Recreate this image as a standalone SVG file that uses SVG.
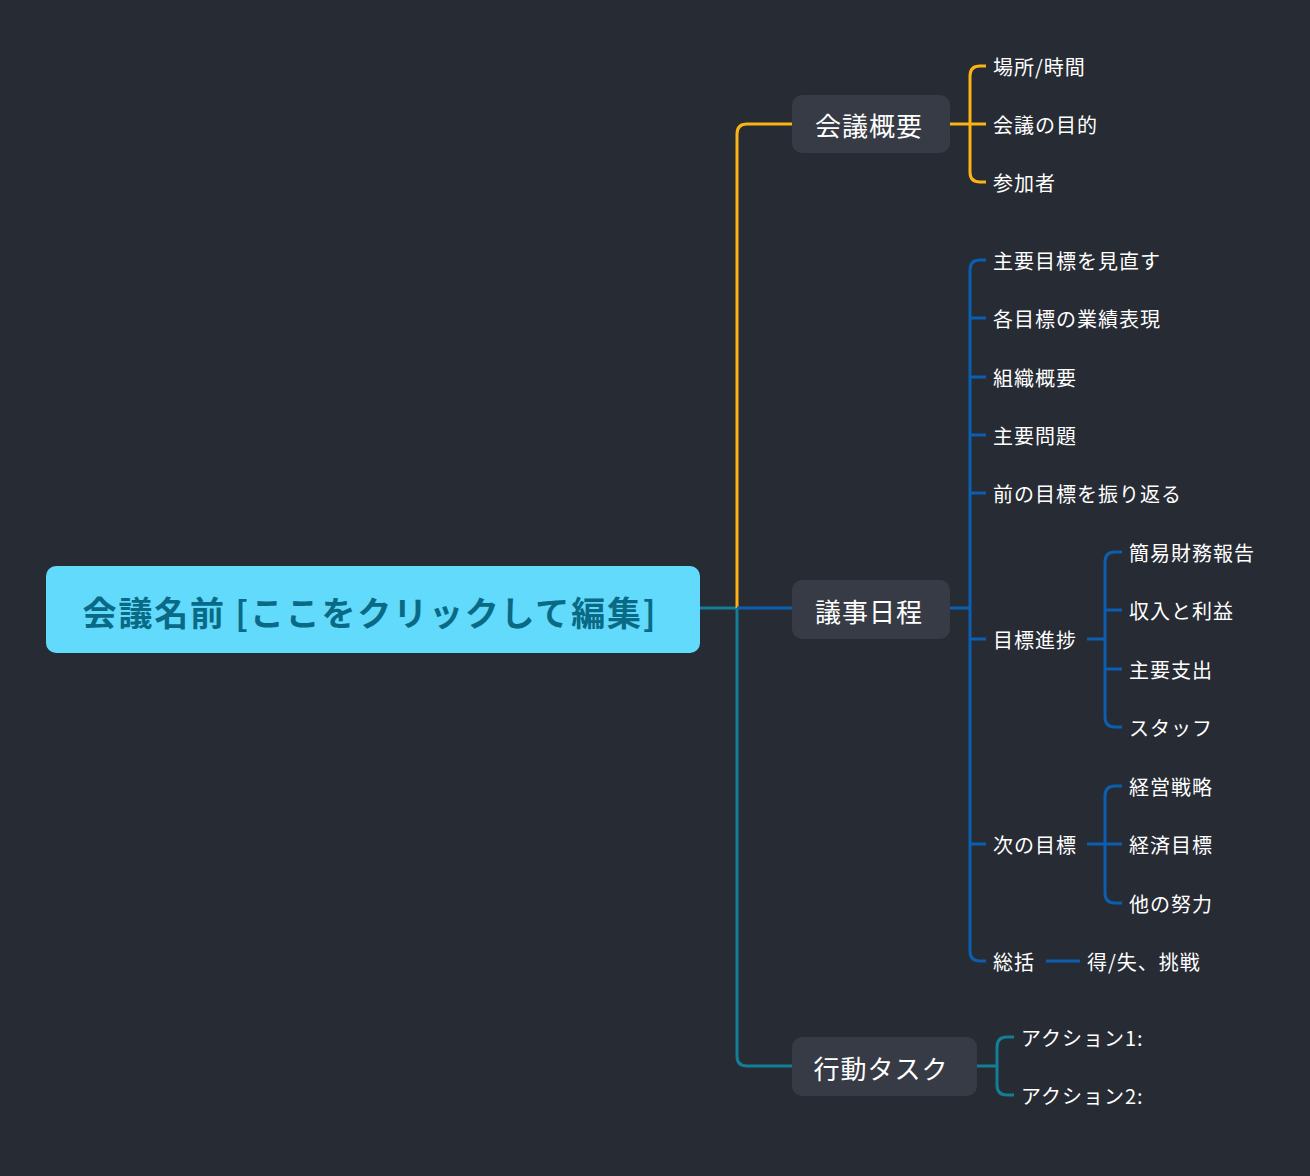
<svg xmlns="http://www.w3.org/2000/svg" width="1310" height="1176" viewBox="0 0 1310 1176">
<style>
text{font-family:"Noto Sans CJK JP","Noto Sans",sans-serif;fill:#fff;dominant-baseline:central}
.l{font-size:20px;letter-spacing:1px}
.n{font-size:26px;text-anchor:middle;letter-spacing:1px}
.b{fill:#373b45}
path{fill:none;stroke-width:3}
.y{stroke:#fcb314}.u{stroke:#0b5fae}.t{stroke:#137f95}
</style>
<rect width="1310" height="1176" fill="#272b34"/>
<g id="connectors">
<path class="t" d="M700 608H737V1056Q737 1066 747 1066H792"/>
<path class="y" d="M737 608V134Q737 124 747 124H792"/>
<path class="u" d="M737 608H792"/>
<path class="y" d="M950 124H986M986 66H980Q970 66 970 76V172Q970 182 980 182H986"/>
<path class="u" d="M950 608H970M986 260H980Q970 260 970 270V951Q970 961 980 961H986M970 318H986M970 377H986M970 435H986M970 493H986M970 639H986M970 844H986"/>
<path class="u" d="M1087 639H1105M1122 552H1115Q1105 552 1105 562V717Q1105 727 1115 727H1122M1105 610H1122M1105 669H1122"/>
<path class="u" d="M1087 844H1122M1122 786H1115Q1105 786 1105 796V893Q1105 903 1115 903H1122"/>
<path class="u" d="M1046 961H1080"/>
<path class="t" d="M977 1066H997M1014 1037H1007Q997 1037 997 1047V1085Q997 1095 1007 1095H1014"/>
</g>
<g id="root"><rect x="46" y="566" width="654" height="87" rx="10" fill="#61dafb"/><text x="370" y="611" style="font-size:34px;font-weight:bold;fill:#0a6a85;text-anchor:middle;letter-spacing:1.8px">会議名前 [ここをクリックして編集]</text></g>
<g id="n1"><rect class="b" x="792" y="95" width="158" height="58" rx="10"/><text class="n" x="869" y="124">会議概要</text></g>
<g id="n2"><rect class="b" x="792" y="580" width="158" height="59" rx="10"/><text class="n" x="869" y="610">議事日程</text></g>
<g id="n3"><rect class="b" x="792" y="1037" width="185" height="59" rx="10"/><text class="n" x="881" y="1067">行動タスク</text></g>
<g id="leaves">
<text class="l" x="993" y="66">場所/時間</text>
<text class="l" x="993" y="124">会議の目的</text>
<text class="l" x="993" y="182">参加者</text>
<text class="l" x="993" y="260">主要目標を見直す</text>
<text class="l" x="993" y="318">各目標の業績表現</text>
<text class="l" x="993" y="377">組織概要</text>
<text class="l" x="993" y="435">主要問題</text>
<text class="l" x="993" y="493">前の目標を振り返る</text>
<text class="l" x="993" y="639">目標進捗</text>
<text class="l" x="993" y="844">次の目標</text>
<text class="l" x="993" y="961">総括</text>
<text class="l" x="1129" y="552">簡易財務報告</text>
<text class="l" x="1129" y="610">収入と利益</text>
<text class="l" x="1129" y="669">主要支出</text>
<text class="l" x="1129" y="727">スタッフ</text>
<text class="l" x="1129" y="786">経営戦略</text>
<text class="l" x="1129" y="844">経済目標</text>
<text class="l" x="1129" y="903">他の努力</text>
<text class="l" x="1087" y="961">得/失、挑戦</text>
<text class="l" x="1021" y="1037">アクション1:</text>
<text class="l" x="1021" y="1095">アクション2:</text>
</g>
</svg>
